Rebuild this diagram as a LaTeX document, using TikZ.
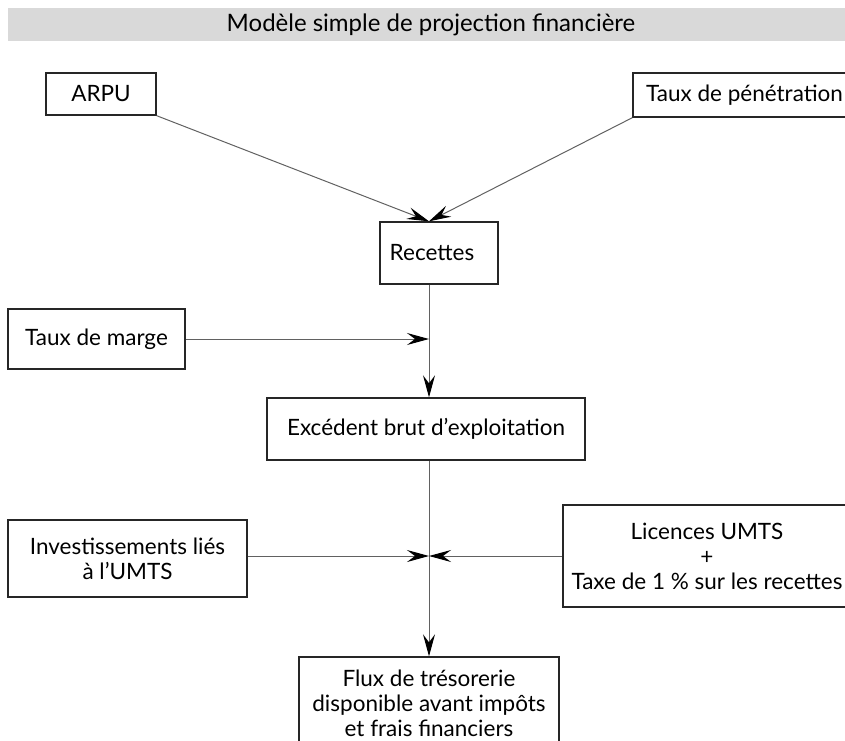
\documentclass[tikz,border=0pt]{standalone}
\usepackage{fontspec}
\setmainfont{Lato}
\usetikzlibrary{arrows.meta}
\begin{document}
\begin{tikzpicture}[x=1pt,y=-1pt,
  box/.style={draw=black!85, line width=1.4pt, fill=white, align=center, inner sep=0pt,
    font=\fontsize{22.5}{25}\selectfont},
  conn/.style={draw=black!62, line width=1pt,
    -{Stealth[length=22pt,width=12pt,inset=8pt,color=black]}}]
\useasboundingbox (0,0) rectangle (845,740);
\clip (0,0) rectangle (845,740);
% title
\node[fill=black!15, minimum width=837, minimum height=33, inner sep=0pt] (title) at (426.5,24.5) {};
\node[font=\fontsize{24}{28}\selectfont, inner sep=0pt] (titletext) at (431,24.5) {Modèle simple de projection financière};
% boxes
\node[box, minimum width=110, minimum height=42] (arpu) at (101,94) {ARPU};
\node[box, minimum width=223, minimum height=44] (pen) at (744.5,95) {Taux de pénétration};
\node[box, minimum width=118, minimum height=62] (rec) at (439,253) {\hbox{Recettes\kern14pt}};
\node[box, minimum width=177, minimum height=60] (marge) at (96.5,339) {Taux de marge};
\node[box, minimum width=318, minimum height=62] (ebe) at (426,429) {Excédent brut d’exploitation};
\node[box, minimum width=239, minimum height=77] (inv) at (127.5,558.5) {Investissements liés\\à l’UMTS};
\node[box, minimum width=288, minimum height=102] (lic) at (707,556) {Licences UMTS\\+\\Taxe de 1 \% sur les recettes};
\node[box, minimum width=260, minimum height=93] (flux) at (429,703.5) {Flux de trésorerie\\disponible avant impôts\\et frais financiers};
% connectors
\coordinate (j) at (lic.west -| flux.north);
\draw[conn] (arpu.south east) -- (rec.north west -| flux.north);
\draw[conn] (pen.south west) -- (rec.north west -| flux.north);
\draw[conn] (rec.south -| flux.north) -- (ebe.north -| flux.north);
\draw[conn] (marge.east) -- (marge.east -| flux.north);
\draw[conn] (ebe.south -| flux.north) -- (flux.north);
\draw[conn] (inv.east |- j) -- (j);
\draw[conn] (lic.west) -- (j);
\end{tikzpicture}
\end{document}
